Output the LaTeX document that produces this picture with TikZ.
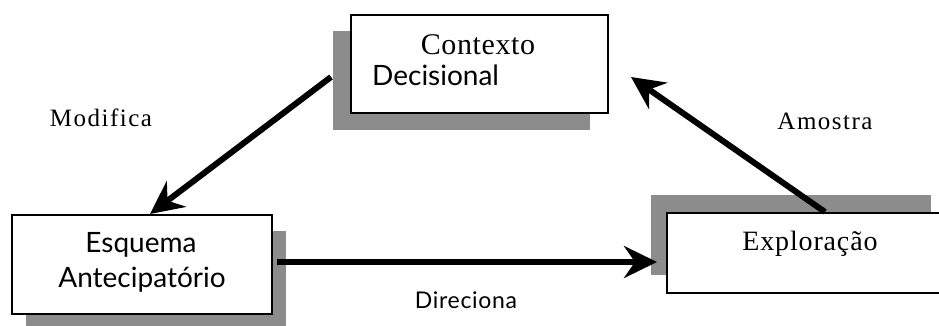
\documentclass[tikz,border=0pt]{standalone}
\usepackage{fontspec}
\setmainfont{Liberation Serif}
\newfontfamily\humsans{Lato}
\usetikzlibrary{arrows.meta}
\begin{document}
\begin{tikzpicture}[x=1pt,y=-1pt,
  box/.style={draw=black, line width=1.8pt, fill=white, rectangle, anchor=north west, inner sep=0pt},
  shadowbox/.style={fill=black!45, draw=none, rectangle, anchor=north west, inner sep=0pt},
  link/.style={line width=6pt, -{Stealth[length=33pt,width=32pt,inset=11pt]}},
  lbl/.style={inner sep=0pt, anchor=base},
  serifbig/.style={font=\addfontfeature{LetterSpace=2}\fontsize{30}{32}\selectfont},
  serifsmall/.style={font=\addfontfeature{LetterSpace=6}\fontsize{25}{27}\selectfont},
  sansbig/.style={font=\humsans\fontsize{28}{30}\selectfont},
  sanssmall/.style={font=\humsans\addfontfeature{LetterSpace=3}\fontsize{23}{25}\selectfont}
]
\useasboundingbox (0,0) rectangle (939,325);

% shadows behind the boxes
\node[shadowbox, minimum width=257pt, minimum height=99pt] (ctxs) at (333,31) {};
\node[shadowbox, minimum width=260pt, minimum height=99pt] (esqs) at (26,231) {};
\node[shadowbox, minimum width=280pt, minimum height=80pt] (exps) at (651,195) {};

% boxes
\node[box, minimum width=257pt, minimum height=98pt] (ctx) at (350,14) {};
\node[box, minimum width=260pt, minimum height=99pt] (esq) at (11,214) {};
\node[box, minimum width=285pt, minimum height=80pt] (exp) at (666,212) {};

% box texts
\node[lbl, serifbig] (ctxa) at (478,54) {Contexto};
\node[lbl, sansbig, anchor=base west] (ctxb) at (372,85) {Decisional};
\node[lbl, sansbig] (esqa) at (141,252) {Esquema};
\node[lbl, sansbig] (esqb) at (142,287) {Antecipatório};
\node[lbl, font=\addfontfeature{LetterSpace=3}\fontsize{28}{30}\selectfont] (expa) at (810,250) {Exploração};

% connector labels
\node[lbl, serifsmall] (lmod) at (101,126) {Modifica};
\node[lbl, serifsmall] (lamo) at (825,129) {Amostra};
\node[lbl, sanssmall] (ldir) at (466,308) {Direciona};

% connector end points
\coordinate (m0) at (331,77);
\coordinate (m1) at (150,214);
\coordinate (d0) at (277,262);
\coordinate (d1) at (657,262);
\coordinate (a0) at (825,212);
\coordinate (a1) at (631,77);

\draw[link] (m0) -- (m1);
\draw[link] (d0) -- (d1);
\draw[link] (a0) -- (a1);
\end{tikzpicture}
\end{document}
